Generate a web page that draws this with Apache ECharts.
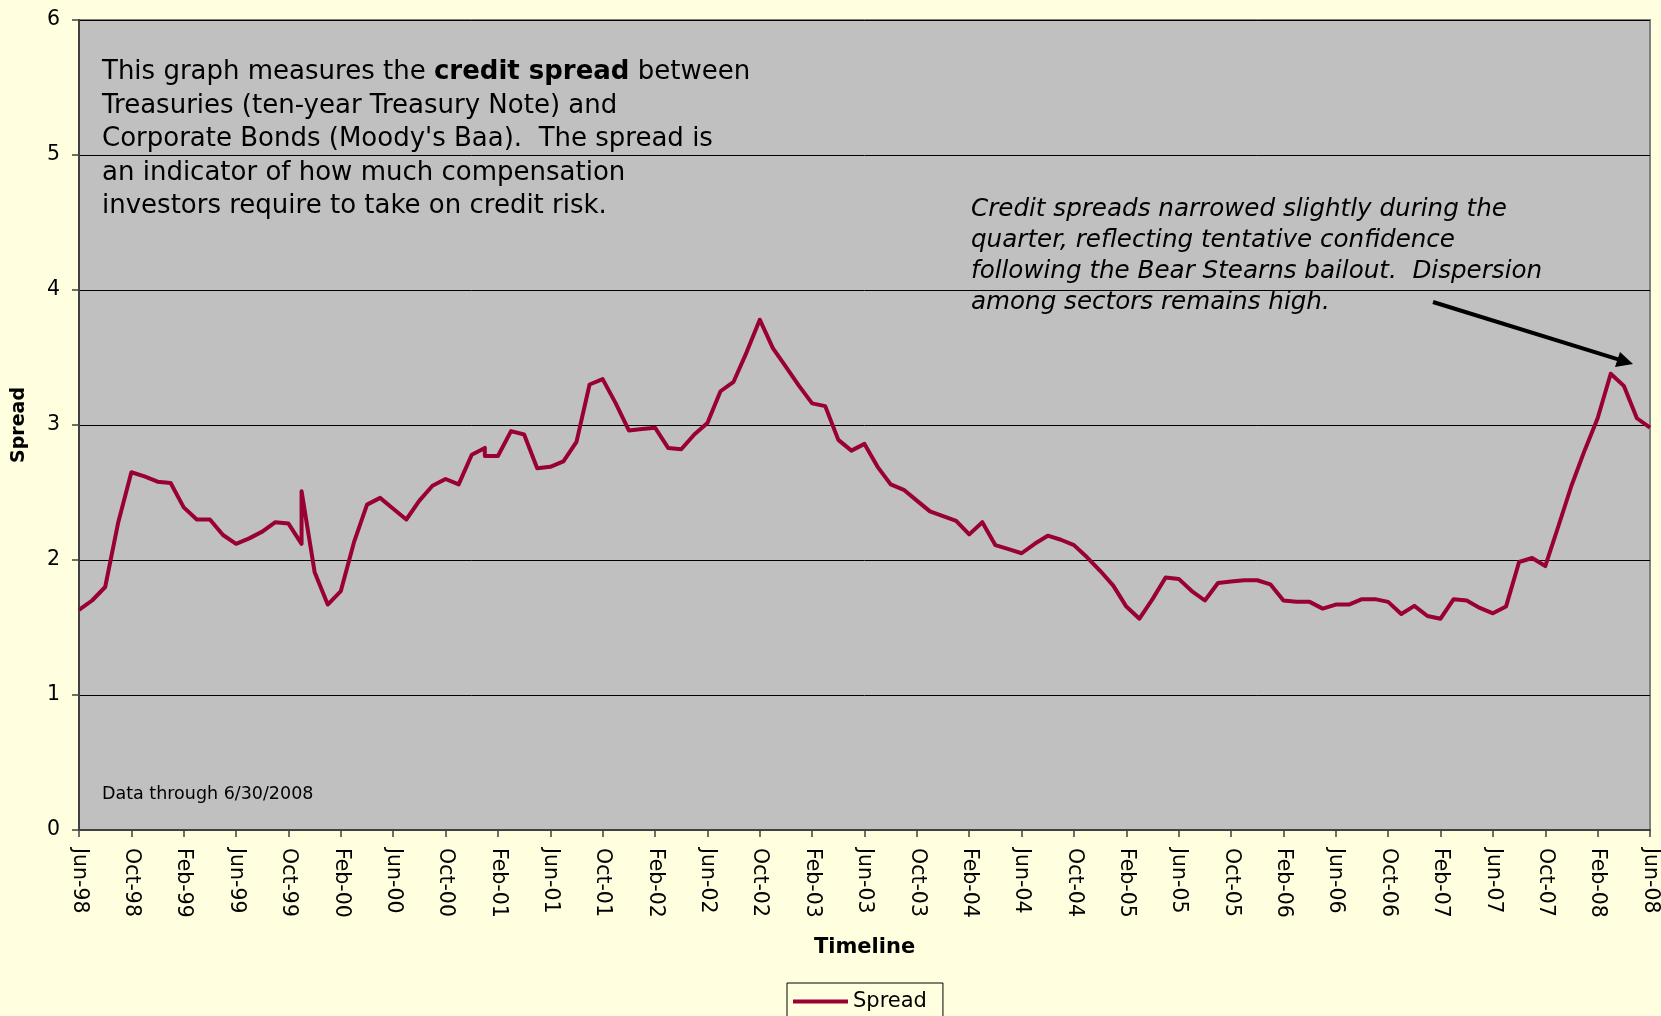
<!DOCTYPE html>
<html>
<head>
<meta charset="utf-8">
<script src="https://cdn.jsdelivr.net/npm/echarts@6/dist/echarts.min.js"></script>
<style>
html,body{margin:0;padding:0;background:#FFFFE0;}
#c{width:1661px;height:1016px;}
</style>
</head>
<body>
<div id="c"></div>
<script>
// Month of each observation (two months appear twice in the source data)
const dates = [
  '1998-06','1998-07','1998-08','1998-09','1998-10','1998-11','1998-12',
  '1999-01','1999-02','1999-03','1999-04','1999-05','1999-06','1999-07','1999-08','1999-09','1999-10','1999-11','1999-11','1999-12',
  '2000-01','2000-02','2000-03','2000-04','2000-05','2000-06','2000-07','2000-08','2000-09','2000-10','2000-11','2000-12',
  '2001-01','2001-01','2001-02','2001-03','2001-04','2001-05','2001-06','2001-07','2001-08','2001-09','2001-10','2001-11','2001-12',
  '2002-01','2002-02','2002-03','2002-04','2002-05','2002-06','2002-07','2002-08','2002-09','2002-10','2002-11','2002-12',
  '2003-01','2003-02','2003-03','2003-04','2003-05','2003-06','2003-07','2003-08','2003-09','2003-10','2003-11','2003-12',
  '2004-01','2004-02','2004-03','2004-04','2004-05','2004-06','2004-07','2004-08','2004-09','2004-10','2004-11','2004-12',
  '2005-01','2005-02','2005-03','2005-04','2005-05','2005-06','2005-07','2005-08','2005-09','2005-10','2005-11','2005-12',
  '2006-01','2006-02','2006-03','2006-04','2006-05','2006-06','2006-07','2006-08','2006-09','2006-10','2006-11','2006-12',
  '2007-01','2007-02','2007-03','2007-04','2007-05','2007-06','2007-07','2007-08','2007-09','2007-10','2007-11','2007-12',
  '2008-01','2008-02','2008-03','2008-04','2008-05','2008-06'
];

const spread = [
  1.63, 1.70, 1.80, 2.28, 2.65, 2.62, 2.58,
  2.57, 2.39, 2.30, 2.30, 2.185, 2.12, 2.16, 2.21, 2.28, 2.27, 2.12, 2.51, 1.91,
  1.67, 1.77, 2.13, 2.41, 2.46, 2.38, 2.30, 2.44, 2.55, 2.60, 2.56, 2.78,
  2.83, 2.77, 2.77, 2.955, 2.93, 2.68, 2.69, 2.73, 2.875, 3.30, 3.34, 3.16, 2.96,
  2.97, 2.98, 2.83, 2.82, 2.93, 3.015, 3.25, 3.32, 3.54, 3.78, 3.57, 3.43,
  3.29, 3.16, 3.14, 2.89, 2.81, 2.86, 2.69, 2.56, 2.52, 2.44, 2.36, 2.325,
  2.29, 2.19, 2.28, 2.11, 2.08, 2.05, 2.12, 2.18, 2.15, 2.11, 2.02, 1.92,
  1.81, 1.655, 1.565, 1.71, 1.87, 1.86, 1.77, 1.70, 1.83, 1.84, 1.85, 1.85,
  1.82, 1.70, 1.69, 1.69, 1.64, 1.67, 1.67, 1.71, 1.71, 1.69, 1.60, 1.66,
  1.585, 1.565, 1.71, 1.70, 1.645, 1.605, 1.655, 1.985, 2.015, 1.955, 2.25, 2.55,
  2.81, 3.05, 3.38, 3.29, 3.05, 2.98
];

const tickLabels = [
  'Jun-98','Oct-98','Feb-99','Jun-99','Oct-99','Feb-00','Jun-00','Oct-00',
  'Feb-01','Jun-01','Oct-01','Feb-02','Jun-02','Oct-02','Feb-03','Jun-03',
  'Oct-03','Feb-04','Jun-04','Oct-04','Feb-05','Jun-05','Oct-05','Feb-06',
  'Jun-06','Oct-06','Feb-07','Jun-07','Oct-07','Feb-08','Jun-08'
];

const seriesName = 'Spread';

function monthIndex(d) {
  const parts = d.split('-');
  return (Number(parts[0]) - 1998) * 12 + (Number(parts[1]) - 6);
}
const seriesData = dates.map((d, i) => [monthIndex(d), spread[i]]);

const FONT = "'DejaVu Sans', 'Liberation Sans', sans-serif";
const chart = echarts.init(document.getElementById('c'), null, {renderer: 'canvas'});

const option = {
  backgroundColor: '#FFFFE0',
  animation: false,
  grid: {
    left: 79, right: 11, top: 20, bottom: 186,
    show: true,
    backgroundColor: '#C0C0C0',
    borderColor: '#808080',
    borderWidth: 2,
    outerBoundsMode: 'none',
    containLabel: false
  },
  xAxis: {
    type: 'value',
    min: 0, max: 120, interval: 4,
    name: 'Timeline',
    nameLocation: 'middle',
    nameGap: 107,
    nameTextStyle: {fontFamily: FONT, fontSize: 21, fontWeight: 'bold', color: '#000'},
    axisLine: {show: true, onZero: false, lineStyle: {color: '#404040', width: 2}},
    axisTick: {show: true, length: 7, lineStyle: {color: '#404040', width: 1.5}},
    axisLabel: {
      rotate: -90, margin: 18, fontFamily: FONT, fontSize: 20.5, color: '#000',
      showMinLabel: true, showMaxLabel: true,
      formatter: v => tickLabels[Math.round(v / 4)] || ''
    },
    splitLine: {show: false}
  },
  yAxis: {
    type: 'value',
    min: 0, max: 6, interval: 1,
    name: 'Spread',
    nameLocation: 'middle',
    nameGap: 50,
    nameRotate: 90,
    nameTextStyle: {fontFamily: FONT, fontSize: 19, fontWeight: 'bold', color: '#000'},
    axisLine: {show: true, lineStyle: {color: '#404040', width: 2}},
    axisTick: {show: true, length: 7, lineStyle: {color: '#404040', width: 1.5}},
    axisLabel: {fontFamily: FONT, fontSize: 20.5, color: '#000', margin: 19},
    splitLine: {show: true, lineStyle: {color: '#000', width: 1}}
  },
  legend: {
    data: [{name: seriesName, icon: 'rect'}],
    left: 787, top: 983,
    padding: [8, 16, 17, 6],
    itemWidth: 55, itemHeight: 4, itemGap: 0,
    borderColor: '#000', borderWidth: 1,
    backgroundColor: '#FFFFE0',
    textStyle: {fontFamily: FONT, fontSize: 21, color: '#000'}
  },
  series: [{
    name: seriesName,
    type: 'line',
    data: seriesData,
    symbol: 'none',
    showSymbol: false,
    color: '#990033',
    lineStyle: {color: '#990033', width: 4, join: 'round'},
    z: 3
  }],
  graphic: [
    {
      type: 'text', x: 102, y: 56, z: 10,
      style: {
        text: 'This graph measures the {b|credit spread} between\nTreasuries (ten-year Treasury Note) and\nCorporate Bonds (Moody\'s Baa).  The spread is\nan indicator of how much compensation\ninvestors require to take on credit risk.',
        fontFamily: FONT, fontSize: 26, lineHeight: 33.4, fill: '#000',
        rich: {b: {fontFamily: FONT, fontSize: 26, fontWeight: 'bold', lineHeight: 33.4, fill: '#000'}}
      }
    },
    {
      type: 'text', x: 971, y: 194, z: 10,
      style: {
        text: 'Credit spreads narrowed slightly during the\nquarter, reflecting tentative confidence\nfollowing the Bear Stearns bailout.  Dispersion\namong sectors remains high.',
        fontFamily: FONT, fontSize: 24.6, fontStyle: 'italic', lineHeight: 31, fill: '#000'
      }
    },
    {
      type: 'text', x: 102, y: 794, z: 10,
      style: {
        text: 'Data through 6/30/2008',
        fontFamily: FONT, fontSize: 17.5, fill: '#000', verticalAlign: 'middle'
      }
    },
    {
      type: 'line', z: 10,
      shape: {x1: 1433, y1: 302, x2: 1619, y2: 359.6},
      style: {stroke: '#000', lineWidth: 4}
    },
    {
      type: 'polygon', z: 10,
      shape: {points: [[1633, 364], [1620, 352], [1615, 367]]},
      style: {fill: '#000'}
    }
  ]
};
chart.setOption(option);
</script>
</body>
</html>
